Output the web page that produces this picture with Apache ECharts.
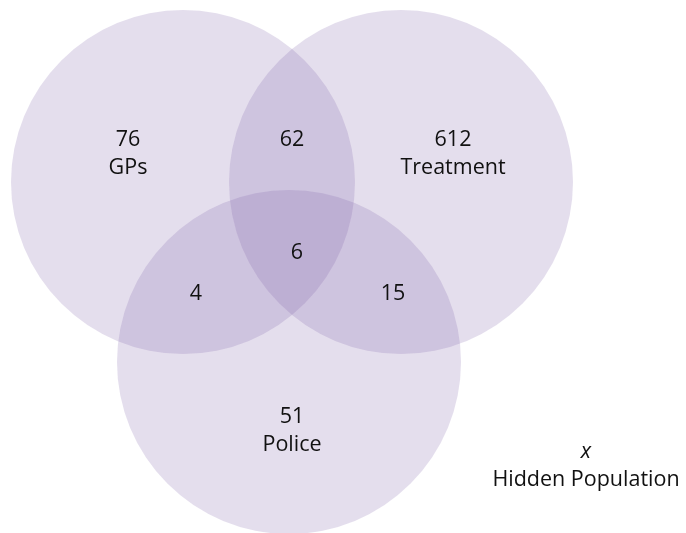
<!DOCTYPE html>
<html>
<head>
<meta charset="utf-8">
<script src="https://cdn.jsdelivr.net/npm/echarts@6/dist/echarts.min.js"></script>
<style>html,body{margin:0;padding:0;background:#fff}#c{width:686px;height:533px}</style>
</head>
<body>
<div id="c"></div>
<script>
// Sets (circles) of the Venn diagram
const setNames = ['GPs', 'Treatment', 'Police'];
const setCenterX = [183, 401, 289];
const setCenterY = [182, 182, 362];
const setRadius = [172, 172, 172];

// Region counts and label anchors
const regionLabels = ['76\nGPs', '62', '612\nTreatment', '6', '4', '15', '51\nPolice', '{i|x}\nHidden Population'];
const regionX = [128, 292, 453, 297, 196, 393, 292, 586];
const regionY = [154, 140, 154, 253, 294, 294, 431, 466];

const chart = echarts.init(document.getElementById('c'), null, {renderer: 'canvas'});
const FONT = '"Open Sans", "DejaVu Sans", sans-serif';

chart.setOption({
  animation: false,
  grid: {left: 0, right: 0, top: 0, bottom: 0},
  xAxis: {type: 'value', min: 0, max: 686, show: false},
  yAxis: {type: 'value', min: 0, max: 533, inverse: true, show: false},
  series: [
    {
      type: 'custom',
      coordinateSystem: 'cartesian2d',
      data: setNames.map((n, i) => [setCenterX[i], setCenterY[i], setRadius[i]]),
      renderItem: function (params, api) {
        const c = api.coord([api.value(0), api.value(1)]);
        const r = api.size([api.value(2), 0])[0];
        return {
          type: 'circle',
          shape: {cx: c[0], cy: c[1], r: r},
          style: {fill: 'rgba(122,92,168,0.205)'}
        };
      }
    },
    {
      type: 'custom',
      coordinateSystem: 'cartesian2d',
      data: regionLabels.map((t, i) => [regionX[i], regionY[i]]),
      renderItem: function (params, api) {
        const c = api.coord([api.value(0), api.value(1)]);
        return {
          type: 'text',
          x: c[0], y: c[1],
          style: {
            text: regionLabels[params.dataIndex],
            fill: '#111',
            font: '21.5px ' + FONT,
            align: 'center',
            verticalAlign: 'middle',
            lineHeight: 28,
            rich: {i: {fontStyle: 'italic', fontSize: 21.5, fontFamily: FONT, lineHeight: 28}}
          }
        };
      }
    }
  ]
});
</script>
</body>
</html>
